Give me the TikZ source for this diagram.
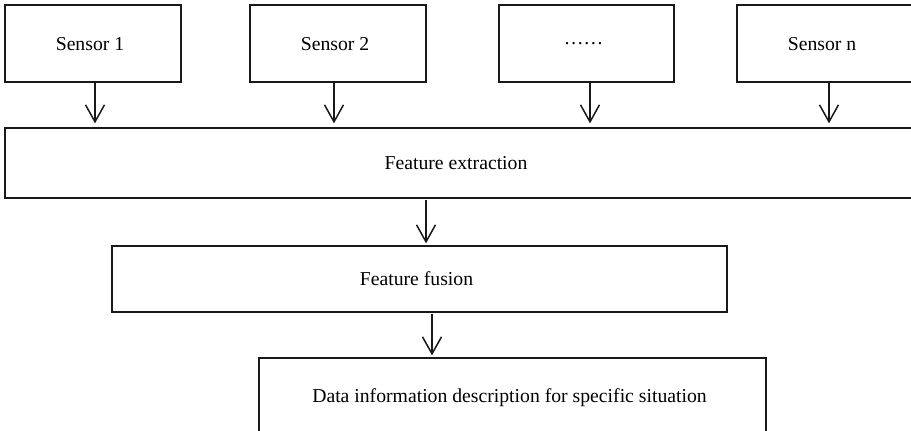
\documentclass[tikz,border=0pt]{standalone}
\usepackage{fontspec}
\setmainfont{Liberation Serif}
\usetikzlibrary{arrows.meta}
\newcommand{\lsh}{\hspace*{-6pt}}
\begin{document}
\begin{tikzpicture}[x=1pt,y=-1pt,
  box/.style={draw=black!90, line width=1.25pt, inner sep=0pt, text depth=0pt,
    font=\fontsize{19.7}{23}\selectfont},
  arr/.style={draw=black!90, line width=1.5pt, -{Straight Barb[length=17pt,width=19pt,line width=1.5pt]}}]
\useasboundingbox (0,0) rectangle (911,431);
\clip (0,0) rectangle (911,431);
\node[box, minimum width=176pt, minimum height=77pt] (s1) at (93,43.5) {\lsh Sensor 1};
\node[box, minimum width=176pt, minimum height=77pt] (s2) at (338,43.5) {\lsh Sensor 2};
\node[box, minimum width=175pt, minimum height=77pt] (s3) at (586.5,43.5) {\lsh ……};
\node[box, minimum width=176pt, minimum height=77pt] (sn) at (825,43.5) {\lsh Sensor n};
\node[box, minimum width=908pt, minimum height=70pt] (fe) at (459,163) {\lsh Feature extraction};
\node[box, minimum width=615pt, minimum height=66pt] (fu) at (419.5,279) {\lsh Feature fusion};
\node[box, minimum width=507pt, minimum height=75pt] (da) at (512.5,395.5) {\lsh Data information description for specific situation};
\draw[arr, shorten >=4pt] ([xshift=2pt]s1.south) -- ([xshift=2pt]s1.south |- fe.north);
\draw[arr, shorten >=4pt] ([xshift=-4pt]s2.south) -- ([xshift=-4pt]s2.south |- fe.north);
\draw[arr, shorten >=4pt] ([xshift=3.5pt]s3.south) -- ([xshift=3.5pt]s3.south |- fe.north);
\draw[arr, shorten >=4pt] ([xshift=4pt]sn.south) -- ([xshift=4pt]sn.south |- fe.north);
\coordinate (c1) at (426,0);
\coordinate (c2) at (432,0);
\draw[arr, shorten >=2pt, shorten <=1pt] (c1 |- fe.south) -- (c1 |- fu.north);
\draw[arr, shorten >=2pt, shorten <=1pt] (c2 |- fu.south) -- (c2 |- da.north);
\end{tikzpicture}
\end{document}
